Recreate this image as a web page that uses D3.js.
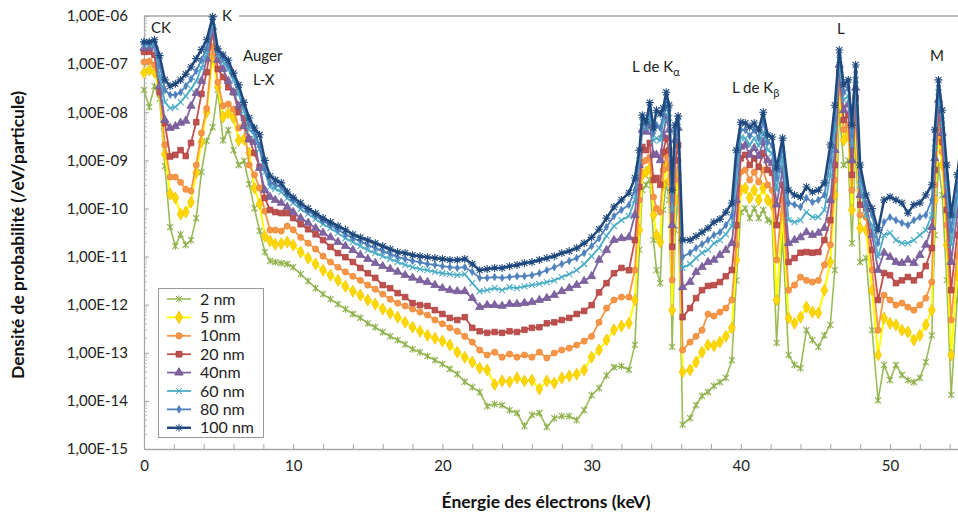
<!DOCTYPE html>
<html><head><meta charset="utf-8">
<script src="https://cdn.jsdelivr.net/npm/d3@7"></script>
<style>body{margin:0;background:#fff;} svg{display:block;font-family:Lato,"Open Sans",sans-serif;}</style>
</head><body><svg id="chart" width="958" height="517"></svg>
<script>
// ---------------- DATA ----------------
const energies = [0,0.35,0.7,1.05,1.4,1.75,2.1,2.45,2.8,3.15,3.5,3.85,4.2,4.6,4.95,5.3,5.65,6.0,6.35,6.7,7.05,7.4,7.75,8.1,8.45,8.8,9.2,
9.6,10,10.5,11,11.5,12,12.5,13,13.5,14,14.5,15,15.5,16,16.5,17,17.5,18,18.5,19,19.5,20,20.5,21,21.5,22,22.5,23,23.5,24,24.5,25,25.5,26,26.5,27,27.5,28,28.5,29,29.5,30,30.5,31,31.5,32,32.5,
32.9,33.2,33.4,33.65,33.9,34.15,34.35,34.6,34.8,35.0,35.2,35.4,35.6,35.8,36.1,
36.6,37.0,37.4,37.8,38.2,38.6,39.0,39.4,
39.7,40.0,40.3,40.6,40.9,41.2,41.5,41.8,42.1,42.4,42.8,
43.2,43.6,44.0,44.4,44.8,45.2,45.6,46.0,46.3,
46.6,46.9,47.2,47.45,47.7,48.0,48.4,
48.8,49.2,49.6,50.0,50.4,50.8,51.2,51.6,52.0,52.4,52.8,
53.0,53.25,53.5,53.8,54.1,54.5,54.9];

const seriesNames = ["2 nm","5 nm","10nm","20 nm","40nm","60 nm","80 nm","100 nm"];

const d2nm = [2.9e-8,1.28e-8,3.5e-8,1.9e-8,7.6e-10,4.1e-11,1.65e-11,2.9e-11,1.75e-11,2.2e-11,6.3e-11,5.7e-10,2.5e-9,4.9e-9,2.9e-8,2.6e-9,4.3e-9,1.63e-9,8.0e-10,9.7e-10,3.2e-10,1.0e-10,3.4e-11,1.24e-11,8.1e-12,7.7e-12,7.3e-12,
7.0e-12,6.0e-12,4.3e-12,3.1e-12,2.2e-12,1.66e-12,1.3e-12,1.03e-12,8.1e-13,6.4e-13,5.3e-13,4.1e-13,3.4e-13,2.7e-13,2.2e-13,1.84e-13,1.5e-13,1.19e-13,1.03e-13,8.5e-14,7.0e-14,5.8e-14,4.6e-14,3.6e-14,2.5e-14,1.94e-14,1.52e-14,7.8e-15,8.6e-15,8.2e-15,6.4e-15,5.6e-15,3.0e-15,5.1e-15,5.6e-15,2.85e-15,4.4e-15,4.8e-15,4.8e-15,4.0e-15,6.4e-15,1.32e-14,1.85e-14,3.4e-14,5.0e-14,5.3e-14,4.4e-14,
1.46e-13,1.37e-11,2.4e-10,3.1e-10,3.9e-10,2.2e-11,5.25e-12,2.8e-12,9.3e-11,3.4e-10,1.5e-10,1.33e-13,3.55e-11,1.9e-10,3.2e-15,
4.4e-15,8.2e-15,1.27e-14,1.53e-14,2.05e-14,2.45e-14,3.0e-14,7.0e-14,
3.2e-12,8.4e-11,1.0e-10,6.3e-11,1.0e-10,6.3e-11,9.3e-11,5.7e-11,5.2e-11,1.6e-13,2.8e-11,
9.0e-14,5.6e-14,4.8e-14,2.95e-13,1.84e-13,1.33e-13,2.3e-13,3.8e-13,5.25e-12,
1.1e-8,8.0e-10,1.0e-9,1.9e-11,2.6e-9,7.7e-12,9.3e-12,
2.95e-13,1.03e-14,5.6e-14,2.7e-14,5.6e-14,3.45e-14,2.7e-14,2.45e-14,3.0e-14,6.4e-14,2.3e-13,
2.8e-11,8.0e-10,1.9e-10,3.25e-12,1.33e-14,1.25e-12,9.3e-11];

const d5nm = [6.6e-8,7.5e-8,6.8e-8,2.6e-8,1.35e-9,2.0e-10,1.65e-10,7.6e-11,8.4e-11,1.35e-10,5.5e-10,2.4e-9,1.0e-8,1.4e-7,3.3e-8,7.95e-9,9.6e-9,7.6e-9,2.6e-9,2.75e-9,1.42e-9,2.65e-10,1.24e-10,2.65e-11,2.1e-11,1.8e-11,1.85e-11,
2.0e-11,1.73e-11,1.24e-11,9.3e-12,7.0e-12,5.2e-12,4.1e-12,3.2e-12,2.4e-12,1.9e-12,1.58e-12,1.25e-12,1.03e-12,8.1e-13,6.7e-13,5.5e-13,4.3e-13,3.4e-13,2.8e-13,2.3e-13,2.0e-13,1.75e-13,1.45e-13,1.03e-13,8.1e-14,6.4e-14,4.8e-14,4.4e-14,2.2e-14,2.6e-14,2.5e-14,3.0e-14,2.6e-14,2.7e-14,1.76e-14,2.6e-14,2.35e-14,3.0e-14,3.3e-14,3.6e-14,4.4e-14,8.1e-14,1.14e-13,1.84e-13,3.0e-13,3.6e-13,4.1e-13,
1.25e-12,3.55e-11,5.0e-10,5.7e-10,6.9e-10,7.3e-11,2.8e-11,2.0e-11,3.1e-10,8.0e-10,3.9e-10,7.7e-13,1.5e-10,5.0e-10,4.0e-14,
4.4e-14,6.4e-14,1.03e-13,1.45e-13,1.4e-13,1.67e-13,2.2e-13,3.3e-13,
8.5e-12,2.4e-10,2.65e-10,1.65e-10,2.4e-10,1.5e-10,2.65e-10,1.5e-10,1.2e-10,1.25e-12,7.3e-11,
5.3e-13,4.1e-13,5.5e-13,8.9e-13,7.0e-13,6.7e-13,2.0e-12,7.7e-12,1.9e-10,
2.9e-8,2.6e-9,3.35e-9,9.3e-11,7.6e-9,3.9e-11,3.55e-11,
2.0e-12,9.0e-14,5.3e-13,4.1e-13,3.8e-13,2.95e-13,2.7e-13,1.84e-13,2.3e-13,3.8e-13,7.7e-13,
1.5e-10,3.35e-9,8.0e-10,1.75e-11,9.0e-14,4.1e-12,2.4e-10];

const d10nm = [1.1e-7,1.15e-7,9.6e-8,3.2e-8,2.1e-9,4.5e-10,4.5e-10,3.5e-10,2.5e-10,2.3e-10,8.0e-10,3.7e-9,1.2e-8,2.3e-7,4.2e-8,1.35e-8,1.48e-8,1.16e-8,4.7e-9,5.4e-9,8.0e-10,5.0e-10,2.65e-10,8.8e-11,3.55e-11,3.55e-11,3.4e-11,
4.3e-11,3.6e-11,2.5e-11,1.9e-11,1.43e-11,1.02e-11,7.7e-12,6.0e-12,4.8e-12,3.9e-12,3.2e-12,2.55e-12,2.1e-12,1.66e-12,1.3e-12,1.08e-12,9.4e-13,8.1e-13,7.0e-13,6.1e-13,4.8e-13,4.0e-13,3.3e-13,2.8e-13,2.2e-13,1.67e-13,1.14e-13,9.0e-14,1.03e-13,8.1e-14,9.4e-14,8.1e-14,9.0e-14,8.1e-14,1.03e-13,7.8e-14,9.9e-14,1.14e-13,1.25e-13,1.45e-13,1.75e-13,2.2e-13,4.3e-13,8.5e-13,1.25e-12,1.44e-12,1.44e-12,
5.25e-12,1.5e-10,9.2e-10,1.0e-9,1.17e-9,1.73e-10,1.0e-10,8.4e-11,6.3e-10,1.3e-9,6.9e-10,3.25e-12,3.9e-10,1.0e-9,1.14e-13,
1.67e-13,2.2e-13,2.95e-13,6.4e-13,5.8e-13,7.0e-13,8.5e-13,1.25e-12,
1.75e-11,5.7e-10,6.3e-10,3.9e-10,5.7e-10,3.55e-10,6.3e-10,3.1e-10,2.4e-10,8.5e-12,1.5e-10,
2.0e-12,2.55e-12,3.75e-12,3.2e-12,2.95e-12,3.2e-12,6.7e-12,1.75e-11,3.9e-10,
4.7e-8,4.3e-9,5.4e-9,2.4e-10,1.22e-8,7.3e-11,6.6e-11,
5.25e-12,2.95e-13,1.58e-12,1.25e-12,9.8e-13,1.08e-12,8.9e-13,7.7e-13,9.8e-13,1.37e-12,2.95e-12,
3.1e-10,6.2e-9,1.5e-9,4.5e-11,4.8e-13,1.07e-11,3.9e-10];

const d20nm = [1.8e-7,1.8e-7,1.55e-7,2.6e-8,5.95e-9,1.2e-9,1.3e-9,1.63e-9,1.23e-9,2.3e-9,6.2e-9,2.4e-8,6.8e-8,4.6e-7,7.9e-8,5.4e-8,3.3e-8,2.6e-8,1.0e-8,7.6e-9,2.75e-9,1.42e-9,7.3e-10,1.65e-10,9.3e-11,8.4e-11,8.0e-11,
8.0e-11,6.3e-11,4.7e-11,3.7e-11,2.9e-11,2.2e-11,1.58e-11,1.18e-11,9.7e-12,7.7e-12,5.8e-12,4.5e-12,3.6e-12,2.55e-12,2.2e-12,1.74e-12,1.44e-12,1.08e-12,9.8e-13,9.4e-13,7.7e-13,6.4e-13,5.3e-13,4.8e-13,5.5e-13,3.3e-13,2.8e-13,2.6e-13,2.7e-13,2.6e-13,2.8e-13,2.7e-13,3.0e-13,3.3e-13,3.4e-13,4.1e-13,4.3e-13,4.8e-13,5.3e-13,6.4e-13,7.4e-13,9.8e-13,1.8e-12,2.8e-12,4.5e-12,5.8e-12,5.2e-12,
2.2e-11,2.8e-10,1.9e-9,1.63e-9,2.3e-9,3.9e-10,4.3e-10,3.1e-10,1.5e-9,2.9e-9,1.63e-9,1.6e-11,1.0e-9,2.08e-9,5.5e-13,
8.5e-13,1.37e-12,2.0e-12,2.45e-12,2.55e-12,2.95e-12,3.9e-12,5.25e-12,
4.5e-11,1.1e-9,1.3e-9,8.0e-10,1.1e-9,7.3e-10,1.42e-9,6.3e-10,5.5e-10,4.5e-11,3.1e-10,
7.7e-12,9.3e-12,1.2e-11,1.24e-11,1.2e-11,1.24e-11,2.2e-11,5.7e-11,8.0e-10,
6.8e-8,6.9e-9,8.7e-9,5.0e-10,1.97e-8,1.2e-10,1.0e-10,
1.37e-11,1.25e-12,4.55e-12,4.1e-12,2.8e-12,3.2e-12,3.75e-12,3.2e-12,4.1e-12,6.35e-12,1.5e-11,
6.3e-10,1.0e-8,2.4e-9,9.3e-11,2.0e-12,2.8e-11,6.3e-10];

const d40nm = [2.16e-7,2.16e-7,2.4e-7,3.5e-8,6.9e-9,4.7e-9,5.1e-9,6.0e-9,6.6e-9,1.35e-8,2.5e-8,4.45e-8,1.28e-7,5.9e-7,1.22e-7,7.9e-8,4.45e-8,2.6e-8,1.35e-8,5.1e-9,2.75e-9,2.4e-9,6.9e-10,2.4e-10,1.73e-10,1.5e-10,1.3e-10,
1.07e-10,8.4e-11,6.3e-11,5.0e-11,3.9e-11,3.1e-11,2.5e-11,2.0e-11,1.65e-11,1.36e-11,1.07e-11,8.9e-12,7.3e-12,6.3e-12,5.5e-12,4.8e-12,4.1e-12,3.6e-12,3.2e-12,2.95e-12,2.55e-12,2.2e-12,2.0e-12,1.9e-12,1.9e-12,1.37e-12,8.9e-13,9.8e-13,9.8e-13,9.4e-13,1.03e-12,1.03e-12,1.08e-12,1.13e-12,1.25e-12,1.37e-12,1.58e-12,1.9e-12,2.2e-12,2.55e-12,3.1e-12,3.9e-12,8.5e-12,1.36e-11,2.2e-11,2.4e-11,2.5e-11,
7.3e-11,8.0e-10,4.3e-9,3.9e-9,5.4e-9,1.3e-9,1.3e-9,1.0e-9,3.35e-9,7.6e-9,4.3e-9,4.5e-11,2.6e-9,4.7e-9,2.3e-12,
2.95e-12,4.75e-12,6.05e-12,7.7e-12,8.5e-12,1.07e-11,1.37e-11,1.9e-11,
1.5e-10,1.9e-9,2.08e-9,1.3e-9,1.8e-9,1.23e-9,2.4e-9,1.0e-9,8.8e-10,1.2e-10,6.3e-10,
1.9e-11,2.2e-11,2.5e-11,3.2e-11,2.8e-11,3.1e-11,3.9e-11,1.5e-10,1.63e-9,
9.6e-8,1.1e-8,1.48e-8,1.0e-9,3.2e-8,1.9e-10,1.2e-10,
2.8e-11,5.25e-12,1.2e-11,9.8e-12,7.7e-12,7.3e-12,8.5e-12,7.3e-12,1.07e-11,1.75e-11,4.1e-11,
1.1e-9,1.8e-8,3.7e-9,1.9e-10,7.7e-12,7.3e-11,1.0e-9];

const d60nm = [2.5e-7,2.5e-7,2.6e-7,5.65e-8,1.62e-8,1.22e-8,1.28e-8,1.62e-8,2.17e-8,3.05e-8,4.45e-8,8.3e-8,1.6e-7,7.5e-7,1.55e-7,1.1e-7,7.9e-8,4.7e-8,2.4e-8,1.05e-8,4.3e-9,3.35e-9,1.7e-9,5.7e-10,2.8e-10,2.55e-10,2.2e-10,
1.64e-10,1.3e-10,9.7e-11,7.7e-11,6.0e-11,4.7e-11,3.9e-11,3.1e-11,2.4e-11,2.0e-11,1.65e-11,1.36e-11,1.18e-11,1.02e-11,8.9e-12,7.7e-12,6.7e-12,6.0e-12,5.5e-12,5.2e-12,4.8e-12,4.5e-12,4.3e-12,4.1e-12,4.3e-12,2.8e-12,1.9e-12,2.0e-12,2.2e-12,2.0e-12,2.3e-12,2.2e-12,2.4e-12,2.55e-12,2.7e-12,2.95e-12,3.2e-12,3.75e-12,4.3e-12,5.2e-12,7.0e-12,1.02e-11,1.5e-11,2.7e-11,4.3e-11,5.7e-11,6.95e-11,
1.5e-10,1.0e-9,6.2e-9,4.7e-9,8.7e-9,2.6e-9,2.9e-9,2.6e-9,6.2e-9,1.4e-8,7.6e-9,9.3e-11,3.9e-9,6.2e-9,5.8e-12,
7.0e-12,9.3e-12,1.2e-11,1.37e-11,1.9e-11,2.2e-11,2.9e-11,4.3e-11,
3.9e-10,3.05e-9,2.9e-9,2.08e-9,2.9e-9,2.0e-9,3.9e-9,1.63e-9,1.42e-9,2.4e-10,1.2e-9,
5.7e-11,5.2e-11,5.7e-11,8.4e-11,6.6e-11,6.6e-11,9.3e-11,5.0e-10,4.3e-9,
1.22e-7,1.8e-8,2.17e-8,2.08e-9,4.7e-8,3.1e-10,7.3e-11,
4.5e-11,9.8e-12,2.8e-11,3.1e-11,2.2e-11,1.9e-11,1.9e-11,2.2e-11,2.8e-11,3.55e-11,7.3e-11,
1.8e-9,2.6e-8,5.4e-9,3.1e-10,1.75e-11,1.5e-10,1.63e-9];

const d80nm = [2.75e-7,2.75e-7,2.9e-7,9.6e-8,2.9e-8,2.3e-8,2.3e-8,2.6e-8,3.5e-8,4.9e-8,7.2e-8,1.22e-7,2.16e-7,8.7e-7,1.8e-7,1.34e-7,9.6e-8,5.9e-8,3.3e-8,1.4e-8,5.7e-9,4.1e-9,2.0e-9,6.6e-10,3.4e-10,3.1e-10,2.8e-10,
1.9e-10,1.5e-10,1.12e-10,8.8e-11,6.95e-11,5.5e-11,4.5e-11,3.6e-11,2.9e-11,2.4e-11,2.1e-11,1.73e-11,1.5e-11,1.3e-11,1.13e-11,9.7e-12,8.9e-12,8.1e-12,7.7e-12,7.0e-12,6.7e-12,6.3e-12,6.0e-12,5.8e-12,6.0e-12,4.8e-12,3.6e-12,3.6e-12,3.75e-12,3.6e-12,3.75e-12,3.9e-12,3.9e-12,4.1e-12,4.5e-12,5.2e-12,6.0e-12,7.0e-12,8.1e-12,9.3e-12,1.18e-11,1.65e-11,2.4e-11,4.1e-11,6.95e-11,9.3e-11,1.18e-10,
2.4e-10,1.3e-9,7.6e-9,5.4e-9,1.22e-8,3.7e-9,5.4e-9,4.7e-9,8.7e-9,1.97e-8,1.1e-8,1.5e-10,4.7e-9,7.6e-9,9.8e-12,
1.2e-11,1.5e-11,1.8e-11,2.2e-11,2.8e-11,3.2e-11,4.5e-11,7.0e-11,
8.0e-10,4.3e-9,4.3e-9,3.2e-9,4.3e-9,2.9e-9,6.2e-9,2.4e-9,2.08e-9,4.3e-10,1.9e-9,
1.3e-10,1.2e-10,1.07e-10,1.65e-10,1.35e-10,1.5e-10,1.9e-10,1.0e-9,7.6e-9,
1.55e-7,2.6e-8,3.2e-8,3.35e-9,6.8e-8,5.0e-10,1.2e-10,
7.3e-11,1.9e-11,5.2e-11,6.6e-11,5.7e-11,5.0e-11,4.5e-11,5.7e-11,6.6e-11,7.3e-11,1.5e-10,
2.6e-9,3.5e-8,7.6e-9,5.0e-10,3.55e-11,2.4e-10,2.6e-9];

const d100nm = [2.9e-7,2.9e-7,3.2e-7,1.5e-7,4.7e-8,3.5e-8,3.9e-8,4.7e-8,6.2e-8,8.7e-8,1.3e-7,2.0e-7,3.2e-7,9.6e-7,2.07e-7,1.55e-7,1.2e-7,6.5e-8,3.7e-8,1.6e-8,7.6e-9,4.7e-9,3.4e-9,1.0e-9,4.7e-10,3.9e-10,3.4e-10,
2.2e-10,1.7e-10,1.3e-10,1.0e-10,8.0e-11,6.3e-11,5.2e-11,4.3e-11,3.6e-11,2.9e-11,2.5e-11,2.2e-11,1.9e-11,1.65e-11,1.43e-11,1.24e-11,1.18e-11,1.07e-11,1.02e-11,9.7e-12,9.3e-12,8.9e-12,8.5e-12,8.5e-12,8.9e-12,7.0e-12,5.2e-12,5.5e-12,5.8e-12,5.8e-12,6.3e-12,6.7e-12,7.3e-12,7.7e-12,8.5e-12,9.3e-12,1.02e-11,1.18e-11,1.3e-11,1.5e-11,1.9e-11,2.5e-11,3.7e-11,6.3e-11,1.07e-10,1.5e-10,2.1e-10,
4.3e-10,1.63e-9,8.7e-9,6.2e-9,1.58e-8,4.7e-9,1.1e-8,9.2e-9,1.22e-8,2.6e-8,1.4e-8,2.4e-10,5.4e-9,8.3e-9,2.2e-11,
2.2e-11,2.65e-11,3.2e-11,3.9e-11,5.2e-11,6.0e-11,8.4e-11,1.3e-10,
1.63e-9,6.2e-9,5.95e-9,4.9e-9,5.95e-9,4.3e-9,1.0e-8,3.35e-9,3.05e-9,6.9e-10,2.9e-9,
2.4e-10,1.9e-10,1.73e-10,2.8e-10,2.2e-10,2.4e-10,3.4e-10,2.08e-9,1.4e-8,
1.96e-7,3.7e-8,4.7e-8,5.4e-9,9.6e-8,8.0e-10,1.9e-10,
1.0e-10,3.55e-11,1.5e-10,1.73e-10,1.5e-10,1.3e-10,8.0e-11,1.2e-10,1.3e-10,1.9e-10,3.1e-10,
4.3e-9,4.7e-8,1.1e-8,8.0e-10,7.3e-11,5.0e-10,4.3e-9];

const seriesValues = [d2nm, d5nm, d10nm, d20nm, d40nm, d60nm, d80nm, d100nm];

const yTickValues = [1e-6,1e-7,1e-8,1e-9,1e-10,1e-11,1e-12,1e-13,1e-14,1e-15];
const yTickLabels = ["1,00E-06","1,00E-07","1,00E-08","1,00E-09","1,00E-10","1,00E-11","1,00E-12","1,00E-13","1,00E-14","1,00E-15"];
const xTickLabels = ["0","10","20","30","40","50"];
const xTitle = "Énergie des électrons (keV)";
const yTitle = "Densité de probabilité  (/eV/particule)";

// ---------------- STYLES ----------------
const styles = [
  {line:"#9BBB59", w:1.6, marker:"asterisk", fill:"none", stroke:"#8DB04A"},
  {line:"#FFFF00", w:2.0, marker:"diamond", fill:"#FFD800", stroke:"#F0C000"},
  {line:"#F79646", w:1.8, marker:"circle", fill:"#F79646", stroke:"#E98634"},
  {line:"#C0504D", w:1.8, marker:"square", fill:"#C0504D", stroke:"#A63F3C"},
  {line:"#8064A2", w:1.8, marker:"triangle", fill:"#8064A2", stroke:"#6E5590"},
  {line:"#4BACC6", w:1.8, marker:"times", fill:"none", stroke:"#4BACC6"},
  {line:"#4F81BD", w:1.8, marker:"smalldiamond", fill:"#4F81BD", stroke:"#4F81BD"},
  {line:"#1F497D", w:2.5, marker:"star", fill:"#1F497D", stroke:"#1F497D"}
];
const markerPath = {
  asterisk: "M-3,-3L3,3M-3,3L3,-3M0,-3.6L0,3.6",
  diamond: d3.symbol(d3.symbolDiamond, 42)(),
  circle: d3.symbol(d3.symbolCircle, 30)(),
  square: d3.symbol(d3.symbolSquare, 32)(),
  triangle: d3.symbol(d3.symbolTriangle, 30)(),
  times: "M-3,-3L3,3M-3,3L3,-3",
  smalldiamond: d3.symbol(d3.symbolDiamond, 16)(),
  star: "M-3,-3L3,3M-3,3L3,-3M0,-4L0,4M-4,0L4,0"
};

// ---------------- CHART ----------------
const svg = d3.select("#chart");
const x = d3.scaleLinear().domain([0, 55]).range([144, 964.6]);
const y = d3.scaleLog().domain([1e-15, 1e-6]).range([449, 16]);

svg.append("defs").append("clipPath").attr("id","clip")
  .append("rect").attr("x",139).attr("y",6).attr("width",819).attr("height",446);

// top border of plot area
svg.append("line").attr("x1",144).attr("x2",958).attr("y1",16).attr("y2",16)
  .attr("stroke","#a6a6a6").attr("stroke-width",1.3);

// x axis
const xAxis = d3.axisBottom(x).tickValues(d3.range(0, 55, 2)).tickSize(-5).tickSizeOuter(0).tickPadding(11)
  .tickFormat(d => (d % 10 === 0 ? xTickLabels[d / 10] : ""));
const gx = svg.append("g").attr("transform","translate(0,449)").call(xAxis);
gx.select(".domain").attr("stroke","#a6a6a6").attr("stroke-width",1.3);
gx.selectAll(".tick line").attr("stroke","#a6a6a6");
gx.selectAll("text").attr("font-size",15).attr("fill","#222").attr("font-family","Lato, 'Open Sans', sans-serif");

// y axis
const yAxis = d3.axisLeft(y).tickValues(yTickValues).tickSize(-5).tickSizeOuter(0).tickPadding(16)
  .tickFormat((d,i) => yTickLabels[i]);
const gy = svg.append("g").attr("transform","translate(144,0)").call(yAxis);
gy.select(".domain").attr("stroke","#a6a6a6").attr("stroke-width",1.3);
gy.selectAll(".tick line").attr("stroke","#a6a6a6");
gy.selectAll("text").attr("font-size",15).attr("fill","#222").attr("font-family","Lato, 'Open Sans', sans-serif");
// minor ticks
const minor = [];
yTickValues.slice(1).forEach(dec => { for (let m = 2; m <= 9; m++) minor.push(dec * m); });
svg.append("g").selectAll("line").data(minor).join("line")
  .attr("x1",144).attr("x2",147).attr("y1",d=>y(d)).attr("y2",d=>y(d))
  .attr("stroke","#b0b0b0").attr("stroke-width",0.8);

// series
const plot = svg.append("g").attr("clip-path","url(#clip)");
const lineGen = d3.line().x((d,i) => x(energies[i])).y(d => y(d));
seriesValues.forEach((vals, k) => {
  const st = styles[k];
  const g = plot.append("g");
  g.append("path").attr("d", lineGen(vals)).attr("fill","none")
    .attr("stroke", st.line).attr("stroke-width", st.w).attr("stroke-linejoin","round");
  g.selectAll("path.m").data(vals).join("path").attr("class","m")
    .attr("transform",(d,i)=>`translate(${x(energies[i])},${y(d)})`)
    .attr("d", markerPath[st.marker])
    .attr("fill", st.fill).attr("stroke", st.stroke)
    .attr("stroke-width", (st.marker==="asterisk"||st.marker==="times"||st.marker==="star") ? 1.1 : 0.7);
});

// annotations
const ann = svg.append("g").attr("font-size",15).attr("fill","#222");
ann.append("text").attr("x",151).attr("y",33).text("CK");
ann.append("rect").attr("x",218).attr("y",8).attr("width",21).attr("height",16).attr("fill","#fff");
ann.append("text").attr("x",222).attr("y",21).text("K");
ann.append("text").attr("x",243).attr("y",61).text("Auger");
ann.append("text").attr("x",253).attr("y",85).text("L-X");
const ka = ann.append("text").attr("x",632).attr("y",72).text("L de K");
ka.append("tspan").attr("font-size",11).attr("dy",4).text("α");
const kb = ann.append("text").attr("x",732).attr("y",93).text("L de K");
kb.append("tspan").attr("font-size",11).attr("dy",4).text("β");
ann.append("text").attr("x",837).attr("y",34).text("L");
ann.append("text").attr("x",930).attr("y",61).text("M");

// axis titles
svg.append("text").attr("x",546).attr("y",508).attr("text-anchor","middle")
  .attr("font-size",17.5).attr("font-weight","bold").attr("fill","#111").text(xTitle);
svg.append("text").attr("transform","translate(24,235) rotate(-90)").attr("text-anchor","middle")
  .attr("font-size",17.5).attr("font-weight","bold").attr("fill","#111").text(yTitle);

// legend
const lg = svg.append("g");
lg.append("rect").attr("x",158.5).attr("y",288.5).attr("width",105).attr("height",149)
  .attr("fill","#fff").attr("stroke","#999").attr("stroke-width",1);
seriesNames.forEach((name, k) => {
  const st = styles[k];
  const cy = 299 + k * 18.4;
  lg.append("line").attr("x1",167).attr("x2",191).attr("y1",cy).attr("y2",cy)
    .attr("stroke", st.line).attr("stroke-width", st.w);
  lg.append("path").attr("transform",`translate(179,${cy})`).attr("d", markerPath[st.marker])
    .attr("fill", st.fill).attr("stroke", st.stroke).attr("stroke-width", 1);
  lg.append("text").attr("x",200).attr("y",cy+5.5).attr("font-size",16).attr("fill","#222").text(name);
});
</script>
</body></html>
